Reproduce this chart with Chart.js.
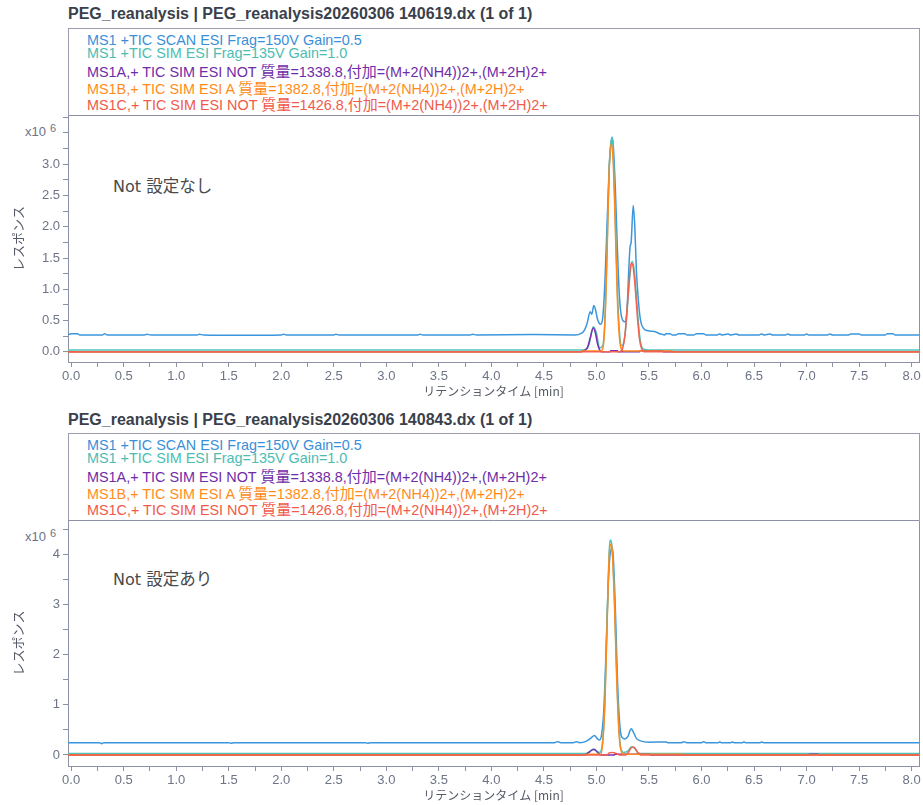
<!DOCTYPE html>
<html><head><meta charset="utf-8">
<script src="https://cdn.jsdelivr.net/npm/chart.js@4.4.0/dist/chart.umd.min.js"></script>
<style>
body{margin:0;background:#fff;width:923px;height:805px;overflow:hidden;position:relative;font-family:"Liberation Sans",Arial,"Noto Sans CJK JP",sans-serif;}
.title{position:absolute;left:68px;font-weight:bold;font-size:16px;line-height:18px;color:#3a3f4c;white-space:nowrap}
.legbox{position:absolute;left:68px;width:852px;border:1px solid #9a9db0;border-bottom:none;box-sizing:border-box}
.leg{position:absolute;left:87px;font-size:14.4px;line-height:16px;white-space:nowrap}
.cjk{font-family:"Noto Sans CJK JP",sans-serif;font-size:15px}
.note{position:absolute;font-family:"DejaVu Sans",sans-serif;font-size:16px;line-height:20px;color:#4a4a4a;white-space:nowrap}
.note .cjk{font-size:16.5px}
.mult{position:absolute;left:25px;font-size:13px;line-height:16px;color:#6d7486;white-space:nowrap}
.mult sup{font-size:11px;margin-left:4px;vertical-align:4px}
canvas{position:absolute;left:0}
</style></head>
<body>
<div class="title" style="top:5px">PEG_reanalysis | PEG_reanalysis20260306 140619.dx (1 of 1)</div>
<div class="legbox" style="top:28px;height:87px"></div>
<div class="leg" style="top:32px;color:#3a8fd9">MS1 +TIC SCAN ESI Frag=150V Gain=0.5</div>
<div class="leg" style="top:45px;color:#4bbdb3">MS1 +TIC SIM ESI Frag=135V Gain=1.0</div>
<div class="leg" style="top:63px;color:#6f2ca8">MS1A,+ TIC SIM ESI NOT <span class="cjk">質量</span>=1338.8,<span class="cjk">付加</span>=(M+2(NH4))2+,(M+2H)2+</div>
<div class="leg" style="top:80px;color:#ff8c1a">MS1B,+ TIC SIM ESI A <span class="cjk">質量</span>=1382.8,<span class="cjk">付加</span>=(M+2(NH4))2+,(M+2H)2+</div>
<div class="leg" style="top:96px;color:#f05a4a">MS1C,+ TIC SIM ESI NOT <span class="cjk">質量</span>=1426.8,<span class="cjk">付加</span>=(M+2(NH4))2+,(M+2H)2+</div>
<div class="mult" style="top:120px">x10<sup>6</sup></div>
<div class="note" style="top:175px;left:113px">Not <span class="cjk">設定なし</span></div>

<div class="title" style="top:411px">PEG_reanalysis | PEG_reanalysis20260306 140843.dx (1 of 1)</div>
<div class="legbox" style="top:433px;height:87px"></div>
<div class="leg" style="top:437px;color:#3a8fd9">MS1 +TIC SCAN ESI Frag=150V Gain=0.5</div>
<div class="leg" style="top:450px;color:#4bbdb3">MS1 +TIC SIM ESI Frag=135V Gain=1.0</div>
<div class="leg" style="top:468px;color:#6f2ca8">MS1A,+ TIC SIM ESI NOT <span class="cjk">質量</span>=1338.8,<span class="cjk">付加</span>=(M+2(NH4))2+,(M+2H)2+</div>
<div class="leg" style="top:485px;color:#ff8c1a">MS1B,+ TIC SIM ESI A <span class="cjk">質量</span>=1382.8,<span class="cjk">付加</span>=(M+2(NH4))2+,(M+2H)2+</div>
<div class="leg" style="top:501px;color:#f05a4a">MS1C,+ TIC SIM ESI NOT <span class="cjk">質量</span>=1426.8,<span class="cjk">付加</span>=(M+2(NH4))2+,(M+2H)2+</div>
<div class="mult" style="top:525px">x10<sup>6</sup></div>
<div class="note" style="top:568px;left:113px">Not <span class="cjk">設定あり</span></div>

<canvas id="c1" width="923" height="307" style="top:95px"></canvas>
<canvas id="c2" width="923" height="306" style="top:500px"></canvas>
<script>
// ---- Data: [retention time (min), response (x10^6)] ----
// Run 1: PEG_reanalysis20260306 140619.dx
const scan1 = [[-0.03,0.27],[0.0,0.29],[0.06,0.29],[0.08,0.27],[0.3,0.27],[0.32,0.29],[0.34,0.27],[0.7,0.27],[0.72,0.28],[0.76,0.27],[1.2,0.27],[1.22,0.28],[1.26,0.27],[1.6,0.265],[2.0,0.27],[2.02,0.28],[2.05,0.27],[2.5,0.27],[2.52,0.28],[2.55,0.27],[3.3,0.27],[3.32,0.28],[3.35,0.27],[3.8,0.27],[3.82,0.28],[3.86,0.27],[4.4,0.275],[4.8,0.27],[4.85,0.29],[4.88,0.33],[4.91,0.45],[4.94,0.64],[4.955,0.6],[4.975,0.74],[4.99,0.68],[5.01,0.52],[5.04,0.44],[5.06,0.55],[5.08,1.1],[5.10,2.0],[5.12,2.9],[5.14,3.35],[5.15,3.43],[5.16,3.3],[5.18,2.6],[5.20,1.6],[5.22,0.85],[5.24,0.55],[5.27,0.48],[5.29,0.65],[5.31,1.4],[5.32,1.68],[5.33,1.75],[5.35,2.34],[5.365,2.0],[5.38,1.3],[5.40,0.8],[5.42,0.5],[5.45,0.37],[5.48,0.34],[5.52,0.33],[5.56,0.32],[5.6,0.29],[5.65,0.27],[5.66,0.29],[5.7,0.29],[5.72,0.27],[5.76,0.27],[5.78,0.29],[5.84,0.29],[5.86,0.27],[5.93,0.27],[5.95,0.29],[6.02,0.29],[6.04,0.27],[6.15,0.27],[6.17,0.285],[6.2,0.27],[6.25,0.285],[6.28,0.27],[6.33,0.285],[6.36,0.27],[6.55,0.27],[6.57,0.285],[6.6,0.27],[6.65,0.285],[6.68,0.27],[6.8,0.27],[6.82,0.285],[6.85,0.27],[6.98,0.27],[7.0,0.285],[7.02,0.27],[7.2,0.27],[7.22,0.285],[7.25,0.27],[7.4,0.27],[7.42,0.285],[7.5,0.285],[7.52,0.27],[7.75,0.27],[7.77,0.29],[7.82,0.29],[7.84,0.27],[8.07,0.27]];
const sim1 = [[-0.03,0.03],[4.88,0.03],[4.93,0.12],[4.97,0.4],[5.0,0.3],[5.03,0.06],[5.06,0.1],[5.08,0.5],[5.10,1.6],[5.12,2.9],[5.14,3.38],[5.15,3.42],[5.16,3.2],[5.18,2.1],[5.20,0.95],[5.22,0.3],[5.24,0.1],[5.26,0.15],[5.28,0.4],[5.30,0.85],[5.32,1.25],[5.34,1.45],[5.36,1.3],[5.38,0.9],[5.40,0.45],[5.42,0.15],[5.45,0.04],[5.5,0.03],[8.07,0.03]];
const ms1a1 = [[-0.03,0],[4.86,0],[4.87,0.015],[4.91,0.05],[4.94,0.22],[4.97,0.38],[4.99,0.3],[5.01,0.13],[5.03,0.03],[5.05,0],[5.13,0],[5.135,0.015],[5.20,0.015],[5.205,0],[5.41,0],[5.415,0.015],[5.63,0.015],[5.635,0],[8.07,0]];
const ms1b1 = [[-0.03,0],[4.85,0],[4.86,0.012],[5.04,0.012],[5.06,0.05],[5.08,0.45],[5.10,1.5],[5.12,2.85],[5.14,3.33],[5.16,3.0],[5.18,1.95],[5.20,0.8],[5.22,0.2],[5.24,0.03],[5.26,0.012],[5.72,0.012],[5.73,0],[8.07,0]];
const ms1c1 = [[-0.03,0],[5.22,0],[5.25,0.06],[5.27,0.25],[5.29,0.65],[5.31,1.1],[5.33,1.42],[5.35,1.35],[5.37,1.0],[5.39,0.55],[5.41,0.2],[5.43,0.05],[5.46,0],[8.07,0]];

// Run 2: PEG_reanalysis20260306 140843.dx
const scan2 = [[-0.03,0.245],[0.27,0.245],[0.29,0.225],[0.31,0.245],[1.5,0.245],[1.52,0.235],[1.55,0.245],[2.8,0.245],[2.82,0.235],[2.85,0.245],[4.6,0.245],[4.63,0.265],[4.66,0.245],[4.78,0.245],[4.81,0.265],[4.84,0.245],[4.9,0.27],[4.95,0.34],[4.98,0.39],[5.01,0.32],[5.03,0.3],[5.05,0.42],[5.07,0.9],[5.09,2.0],[5.11,3.3],[5.13,4.0],[5.15,4.12],[5.16,3.95],[5.18,2.9],[5.20,1.5],[5.22,0.65],[5.24,0.36],[5.27,0.32],[5.30,0.37],[5.33,0.52],[5.35,0.46],[5.38,0.33],[5.42,0.28],[5.5,0.255],[5.66,0.26],[5.68,0.245],[5.81,0.245],[5.83,0.265],[5.86,0.245],[6.0,0.245],[6.02,0.265],[6.04,0.245],[6.16,0.245],[6.17,0.26],[6.19,0.245],[6.28,0.245],[6.29,0.26],[6.31,0.245],[6.39,0.245],[6.4,0.26],[6.42,0.245],[6.56,0.245],[6.57,0.26],[6.59,0.245],[8.07,0.245]];
const sim2 = [[-0.03,0.03],[4.9,0.03],[4.95,0.09],[4.97,0.12],[5.0,0.08],[5.03,0.05],[5.06,0.3],[5.08,1.1],[5.10,2.6],[5.12,4.0],[5.13,4.28],[5.15,4.1],[5.17,3.2],[5.19,1.8],[5.21,0.7],[5.23,0.15],[5.26,0.05],[5.30,0.08],[5.33,0.16],[5.36,0.14],[5.39,0.05],[5.42,0.03],[8.07,0.03]];
const ms1a2 = [[-0.03,0],[4.88,0],[4.92,0.04],[4.96,0.1],[4.98,0.11],[5.01,0.05],[5.04,0],[5.17,0],[5.175,0.015],[5.51,0.015],[5.515,0],[7.02,0],[7.025,0.015],[7.11,0.015],[7.115,0],[8.07,0]];
const ms1b2 = [[-0.03,0],[4.9,0],[4.91,0.012],[5.04,0.012],[5.06,0.25],[5.08,1.0],[5.10,2.5],[5.12,3.9],[5.14,4.2],[5.15,4.05],[5.17,3.1],[5.19,1.7],[5.21,0.6],[5.23,0.12],[5.26,0.012],[5.83,0.012],[5.835,0],[8.07,0]];
const ms1c2 = [[-0.03,0],[5.10,0],[5.12,0.04],[5.15,0.05],[5.19,0.03],[5.22,0],[5.28,0],[5.31,0.07],[5.34,0.16],[5.36,0.15],[5.39,0.06],[5.42,0],[8.07,0]];

const seriesNames = ['MS1C','MS1B','MS1A','MS1 SIM','MS1 SCAN'];
const seriesColors = ['#f2634f','#ff8a1c','#7a2fb0','#4fc3b8','#3b96dd'];

const axisColor = '#8d91a6';
const tickColor = '#6d7486';
Chart.defaults.font.family = '"Liberation Sans", Arial, sans-serif';

const framePlugin = {
  id:'frame',
  afterDraw(chart){
    const {ctx, chartArea:a} = chart;
    ctx.save();
    ctx.strokeStyle = axisColor; ctx.lineWidth = 1;
    ctx.beginPath();
    ctx.moveTo(a.left, Math.floor(a.top)+0.5);
    ctx.lineTo(Math.floor(a.right)+0.5, Math.floor(a.top)+0.5);
    ctx.lineTo(Math.floor(a.right)+0.5, a.bottom);
    ctx.stroke();
    ctx.restore();
  }
};

function halfLabel(v){
  const r = Math.round(v*2);
  return Math.abs(v*2 - r) < 1e-6 ? v.toFixed(1) : '';
}
function yLabel1(v){
  return v > 3.01 ? '' : halfLabel(v);
}
function intLabel(v){
  const r = Math.round(v);
  return Math.abs(v - r) < 1e-6 ? String(r) : '';
}

function build(id, series, yMin, yMax, yStep, yLabel){
  const datasets = series.map((d,i)=>({
    label: seriesNames[i],
    data: d.map(p=>({x:p[0], y:p[1]})),
    borderColor: seriesColors[i],
    borderWidth: 1.5,
    pointRadius: 0,
    fill: false,
    cubicInterpolationMode: 'monotone'
  }));
  new Chart(document.getElementById(id), {
    type:'line',
    data:{datasets},
    plugins:[framePlugin],
    options:{
      responsive:false, animation:false,
      layout:{padding:{top:20,right:4,left:0,bottom:0}},
      plugins:{legend:{display:false}, tooltip:{enabled:false}},
      scales:{
        x:{type:'linear', min:-0.03, max:8.07,
          ticks:{stepSize:0.25, includeBounds:false, autoSkip:false, maxRotation:0, color:tickColor, font:{size:13}, padding:2, callback:(v)=>halfLabel(v)},
          grid:{display:true, drawOnChartArea:false, drawTicks:true, tickLength:5, color:axisColor},
          border:{display:true, color:axisColor},
          title:{display:true, text:'リテンションタイム [min]', color:'#555a66', font:{size:12, family:'"Noto Sans CJK JP", sans-serif'}, padding:{top:0,bottom:3}},
          afterFit:(s)=>{s.height=40;}
        },
        y:{type:'linear', min:yMin, max:yMax,
          ticks:{stepSize:yStep, includeBounds:false, autoSkip:false, color:tickColor, font:{size:13}, padding:3, callback:yLabel},
          grid:{display:true, drawOnChartArea:false, drawTicks:true, tickLength:5, color:axisColor},
          border:{display:true, color:axisColor},
          title:{display:true, text:'レスポンス', color:'#555a66', font:{size:13, family:'"Noto Sans CJK JP", sans-serif'}, padding:{top:10,bottom:0}},
          afterFit:(s)=>{s.width=68;}
        }
      }
    }
  });
}

build('c1', [ms1c1, ms1b1, ms1a1, sim1, scan1], -0.163, 3.787, 0.25, yLabel1);
build('c2', [ms1c2, ms1b2, ms1a2, sim2, scan2], -0.22, 4.68, 0.5, intLabel);
</script>
</body></html>
